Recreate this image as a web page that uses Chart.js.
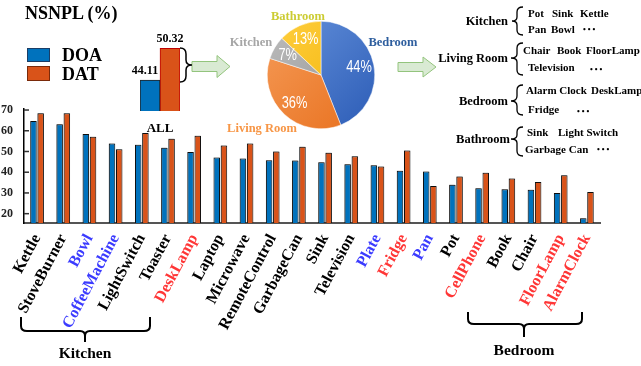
<!DOCTYPE html>
<html>
<head>
<meta charset="utf-8">
<script src="https://cdn.jsdelivr.net/npm/chart.js@4.4.1/dist/chart.umd.min.js"></script>
<style>
  html, body { margin: 0; padding: 0; background: #fff; }
  #page { position: relative; width: 641px; height: 366px; overflow: hidden;
          font-family: "Liberation Serif", "Times New Roman", serif; font-weight: bold; color: #000; }
  canvas { position: absolute; }
  .t { position: absolute; white-space: pre; line-height: 1; transform: translateY(-50%); }
  .c { position: absolute; white-space: pre; line-height: 1; transform: translate(-50%, -50%); }
  .r { position: absolute; white-space: pre; line-height: 1; transform: translate(-100%, -50%); }
  .item { font-size: 11px; }
  .room { font-size: 12.5px; }
  .dots { font-size: 8px; letter-spacing: 2px; }
  svg { position: absolute; left: 0; top: 0; }
</style>
</head>
<body>
<div id="page">
  <canvas id="mainChart" width="641" height="366" style="left:0;top:0;"></canvas>
  <canvas id="allChart" width="80" height="125" style="left:120px;top:20px;"></canvas>
  <canvas id="pieChart" width="108" height="108" style="left:267px;top:21px;"></canvas>

  <svg width="641" height="366">
    <!-- arrows -->
    <polygon points="192,61.5 217,61.5 217,55.5 230,66.5 217,77.5 217,71.5 192,71.5" fill="#d9ead3" stroke="#93c47d" stroke-width="1"/>
    <polygon points="398,62.5 423,62.5 423,57 436,67 423,77 423,71.5 398,71.5" fill="#d9ead3" stroke="#93c47d" stroke-width="1"/>
    <!-- brace next to ALL -->
    <path d="M180,48 Q186,48 186,54 L186,60 Q186,65 192,65 Q186,65 186,70 L186,76 Q186,82 180,82" fill="none" stroke="#000" stroke-width="1.5"/>
    <!-- braces of the right list -->
    <path d="M523,7 Q517,7 517,12 L517,17 Q517,21 512,21 Q517,21 517,25 L517,30 Q517,35 523,35" fill="none" stroke="#000" stroke-width="1.3"/>
    <path d="M523,43 Q517,43 517,48 L517,54 Q517,58 511,58 Q517,58 517,62 L517,70 Q517,75 523,75" fill="none" stroke="#000" stroke-width="1.3"/>
    <path d="M523,85 Q517,85 517,90 L517,96 Q517,101 511,101 Q517,101 517,106 L517,110 Q517,115 523,115" fill="none" stroke="#000" stroke-width="1.3"/>
    <path d="M523,127 Q517,127 517,132 L517,135 Q517,139 511,139 Q517,139 517,143 L517,151 Q517,156 523,156" fill="none" stroke="#000" stroke-width="1.3"/>
    <!-- bottom brackets -->
    <path d="M21,317 L21,326 Q21,331 27,331 L80,331 Q85,331 85,336 L85,342 M85,336 Q85,331 90,331 L144,331 Q150,331 150,326 L150,317" fill="none" stroke="#000" stroke-width="2"/>
    <path d="M468,312 L468,319 Q468,324 474,324 L519,324 Q524,324 524,329 L524,337 M524,329 Q524,324 529,324 L576,324 Q582,324 582,319 L582,312" fill="none" stroke="#000" stroke-width="2"/>
  </svg>

  <!-- title and legend -->
  <div class="t" style="left:25px;top:13px;font-size:18px;">NSNPL (%)</div>
  <div style="position:absolute;left:27px;top:48px;width:21px;height:12px;background:#0072BD;border:1px solid #1b3d66;"></div>
  <div style="position:absolute;left:27px;top:66px;width:21px;height:13px;background:#D95319;border:1px solid #7a2a0a;"></div>
  <div class="t" style="left:62px;top:55px;font-size:18px;">DOA</div>
  <div class="t" style="left:62px;top:74px;font-size:18px;">DAT</div>

  <!-- pie labels -->
  <div class="c room" style="left:298px;top:16px;color:#cccc33;">Bathroom</div>
  <div class="c room" style="left:251px;top:42px;color:#a6a6a6;">Kitchen</div>
  <div class="c room" style="left:393px;top:42px;color:#2e5e9e;">Bedroom</div>
  <div class="c room" style="left:262px;top:128px;color:#f79646;">Living Room</div>

  <!-- right list -->
  <div class="r room" style="left:508px;top:21px;">Kitchen</div>
  <div class="t item" style="left:528px;top:13px;">Pot</div>
  <div class="t item" style="left:552px;top:13px;">Sink</div>
  <div class="t item" style="left:580px;top:13px;">Kettle</div>
  <div class="t item" style="left:528px;top:29px;">Pan</div>
  <div class="t item" style="left:551px;top:29px;">Bowl</div>
  <div class="t dots" style="left:583px;top:30px;">•••</div>

  <div class="r room" style="left:508px;top:58px;">Living Room</div>
  <div class="t item" style="left:523px;top:50px;">Chair</div>
  <div class="t item" style="left:557px;top:50px;">Book</div>
  <div class="t item" style="left:586px;top:50px;">FloorLamp</div>
  <div class="t item" style="left:528px;top:67px;">Television</div>
  <div class="t dots" style="left:590px;top:70px;">•••</div>

  <div class="r room" style="left:508px;top:101px;">Bedroom</div>
  <div class="t item" style="left:526px;top:90px;">Alarm Clock</div>
  <div class="t item" style="left:591px;top:90px;">DeskLamp</div>
  <div class="t item" style="left:528px;top:109px;">Fridge</div>
  <div class="t dots" style="left:577px;top:112px;">•••</div>

  <div class="r room" style="left:510px;top:139px;">Bathroom</div>
  <div class="t item" style="left:527px;top:132px;">Sink</div>
  <div class="t item" style="left:558px;top:132px;">Light Switch</div>
  <div class="t item" style="left:525px;top:149px;">Garbage Can</div>
  <div class="t dots" style="left:597px;top:150px;">•••</div>

  <!-- bracket labels -->
  <div class="c" style="left:85px;top:353px;font-size:15.5px;">Kitchen</div>
  <div class="c" style="left:524px;top:350px;font-size:15.5px;">Bedroom</div>
</div>

<script>
// per-object NSNPL values (%)
const categories = ['Kettle', 'StoveBurner', 'Bowl', 'CoffeeMachine', 'LightSwitch', 'Toaster', 'DeskLamp',
    'Laptop', 'Microwave', 'RemoteControl', 'GarbageCan', 'Sink', 'Television', 'Plate', 'Fridge', 'Pan',
    'Pot', 'CellPhone', 'Book', 'Chair', 'FloorLamp', 'AlarmClock'];
const doaValues = [64.7, 63.2, 58.4, 53.9, 53.2, 51.8, 49.8, 47.1, 46.6, 45.8, 45.6, 44.8, 43.9, 43.4, 40.7,
    40.3, 34.0, 32.3, 31.8, 31.6, 30.0, 17.8];
const datValues = [68.4, 68.4, 57.1, 51.1, 58.9, 56.1, 57.6, 52.9, 53.9, 50.0, 52.3, 49.4, 47.7, 42.8, 50.5,
    33.4, 37.9, 39.8, 37.0, 35.3, 38.5, 30.5];
const yTicks = [20, 30, 40, 50, 60, 70];

// highlighted object names
const blueLabels = ['Bowl', 'CoffeeMachine', 'Plate', 'Pan'];
const redLabels = ['DeskLamp', 'Fridge', 'CellPhone', 'FloorLamp', 'AlarmClock'];

// overall values
const allLabels = ['ALL'];
const allDoa = [44.11];
const allDat = [50.32];

// room share of objects
const roomLabels = ['Bedroom', 'Living Room', 'Kitchen', 'Bathroom'];
const roomShares = [44, 36, 7, 13];

const serif = '"Liberation Serif", "Times New Roman", serif';
const DOA_COLOR = '#0072BD';
const DAT_COLOR = '#D95319';

function labelColor(name) {
    if (blueLabels.includes(name)) return '#3b3bff';
    if (redLabels.includes(name)) return '#ff3636';
    return '#000';
}

// soft shadow behind the bars
const barShadow = {
    id: 'barShadow',
    beforeDatasetsDraw(chart) {
        const ctx = chart.ctx;
        ctx.save();
        ctx.shadowColor = 'rgba(0,0,0,0.35)';
        ctx.shadowOffsetX = -1;
        ctx.shadowOffsetY = -1;
        ctx.shadowBlur = 1.5;
    },
    afterDatasetsDraw(chart) {
        chart.ctx.restore();
    }
};

// inward tick marks on the y axis
const yTickMarks = {
    id: 'yTickMarks',
    afterDraw(chart) {
        const ctx = chart.ctx;
        const y = chart.scales.y;
        ctx.save();
        ctx.strokeStyle = '#333';
        ctx.lineWidth = 1.5;
        yTicks.forEach(v => {
            const py = y.getPixelForValue(v);
            ctx.beginPath();
            ctx.moveTo(y.right, py);
            ctx.lineTo(y.right + 5, py);
            ctx.stroke();
        });
        ctx.restore();
    }
};

new Chart(document.getElementById('mainChart'), {
    type: 'bar',
    data: {
        labels: categories,
        datasets: [
            { label: 'DOA', data: doaValues, backgroundColor: DOA_COLOR, borderColor: '#111', borderWidth: 1 },
            { label: 'DAT', data: datValues, backgroundColor: DAT_COLOR, borderColor: '#111', borderWidth: 1 }
        ]
    },
    options: {
        responsive: false,
        animation: false,
        layout: { padding: { top: 109, left: 0, right: 41, bottom: 0 } },
        datasets: { bar: { categoryPercentage: 0.55, barPercentage: 0.9 } },
        plugins: { legend: { display: false }, tooltip: { enabled: false } },
        scales: {
            x: {
                grid: { display: false },
                border: { color: '#555', width: 2 },
                ticks: {
                    autoSkip: false,
                    minRotation: 62,
                    maxRotation: 62,
                    padding: 0,
                    color: (c) => labelColor(categories[c.index]),
                    font: { family: serif, size: 16, weight: 'bold' }
                },
                afterFit: (s) => { s.height = 143; }
            },
            y: {
                min: 15.5,
                max: 70.5,
                grid: { display: false },
                border: { color: '#000', width: 1.5 },
                afterBuildTicks: (s) => { s.ticks = yTicks.map(v => ({ value: v })); },
                ticks: { color: '#222', padding: 3, font: { family: serif, size: 12, weight: 'bold' } },
                afterFit: (s) => { s.width = 24; }
            }
        }
    },
    plugins: [barShadow, yTickMarks]
});

// value labels over the ALL bars
const allValueLabels = {
    id: 'allValueLabels',
    afterDatasetsDraw(chart) {
        const ctx = chart.ctx;
        ctx.save();
        ctx.fillStyle = '#000';
        ctx.font = 'bold 12px ' + serif;
        ctx.textAlign = 'center';
        ctx.textBaseline = 'bottom';
        chart.data.datasets.forEach((ds, di) => {
            chart.getDatasetMeta(di).data.forEach((bar, i) => {
                ctx.fillText(ds.data[i].toFixed(2), bar.x - (di === 0 ? 5 : 0), bar.y - 3);
            });
        });
        ctx.restore();
    }
};

new Chart(document.getElementById('allChart'), {
    type: 'bar',
    data: {
        labels: allLabels,
        datasets: [
            { label: 'DOA', data: allDoa, backgroundColor: DOA_COLOR, borderColor: '#222', borderWidth: 1 },
            { label: 'DAT', data: allDat, backgroundColor: DAT_COLOR, borderColor: '#c00000', borderWidth: 1 }
        ]
    },
    options: {
        responsive: false,
        animation: false,
        layout: { padding: { left: 20, right: 20, top: 20, bottom: 0 } },
        datasets: { bar: { categoryPercentage: 1, barPercentage: 1 } },
        plugins: { legend: { display: false }, tooltip: { enabled: false } },
        scales: {
            x: {
                grid: { display: false },
                border: { display: false },
                ticks: { padding: 2, color: '#000', font: { family: serif, size: 13, weight: 'bold' } },
                afterFit: (s) => { s.height = 34; }
            },
            y: { display: false, min: 38.04, max: 51.95 }
        }
    },
    plugins: [allValueLabels]
});

// pie with percent labels
const pieTop = ['#6592dc', '#f59b58', '#bdbdbd', '#ffcf40'];
const pieBottom = ['#2c5cb6', '#e86f1c', '#8f8f8f', '#f0b000'];

const piePercent = {
    id: 'piePercent',
    afterDatasetsDraw(chart) {
        const ctx = chart.ctx;
        ctx.save();
        ctx.fillStyle = '#fff';
        ctx.font = '16px "Liberation Sans", sans-serif';
        ctx.textAlign = 'center';
        ctx.textBaseline = 'middle';
        chart.getDatasetMeta(0).data.forEach((arc, i) => {
            const p = arc.getProps(['x', 'y', 'startAngle', 'endAngle', 'outerRadius'], true);
            const mid = (p.startAngle + p.endAngle) / 2;
            const r = p.outerRadius * 0.72;
            ctx.save();
            ctx.translate(p.x + Math.cos(mid) * r, p.y + Math.sin(mid) * r);
            ctx.scale(0.8, 1); // narrow face like the original
            ctx.fillText(roomShares[i] + '%', 0, 0);
            ctx.restore();
        });
        ctx.restore();
    }
};

new Chart(document.getElementById('pieChart'), {
    type: 'pie',
    data: {
        labels: roomLabels,
        datasets: [{
            data: roomShares,
            borderColor: '#fff',
            borderWidth: 0.5,
            hoverOffset: 0,
            backgroundColor: (c) => {
                const area = c.chart.chartArea;
                if (!area) return pieBottom[c.dataIndex];
                const g = c.chart.ctx.createLinearGradient(area.left, area.top, area.right, area.bottom);
                g.addColorStop(0, pieTop[c.dataIndex]);
                g.addColorStop(1, pieBottom[c.dataIndex]);
                return g;
            }
        }]
    },
    options: {
        responsive: false,
        animation: false,
        layout: { padding: 0 },
        plugins: { legend: { display: false }, tooltip: { enabled: false } }
    },
    plugins: [piePercent]
});
</script>
</body>
</html>
